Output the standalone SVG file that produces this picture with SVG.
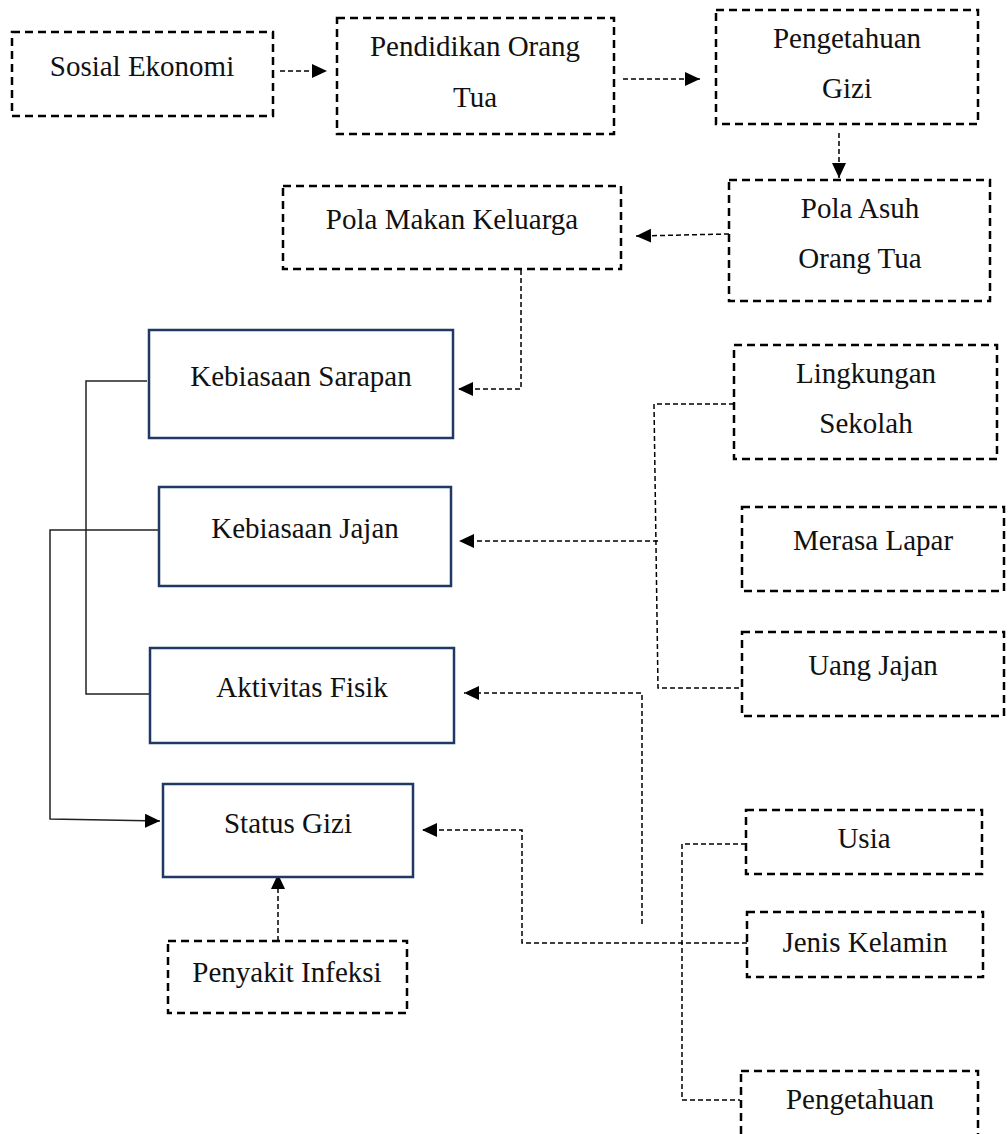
<svg xmlns="http://www.w3.org/2000/svg" width="1008" height="1134" viewBox="0 0 1008 1134">
<style>
.dbox{fill:#fff;stroke:#000;stroke-width:2.5;stroke-dasharray:8 5}
.sbox{fill:#fff;stroke:#1f3864;stroke-width:2.5}
.t{font-family:"Liberation Serif","Times New Roman",serif;font-size:29px;fill:#111;text-anchor:middle}
.dc{fill:none;stroke:#000;stroke-width:1.5;stroke-dasharray:5 3}
.sc{fill:none;stroke:#222;stroke-width:1.5}
</style>
<defs>
<marker id="ah" markerUnits="userSpaceOnUse" markerWidth="16" markerHeight="16" refX="15" refY="7" orient="auto">
<path d="M0,0 L15,7 L0,14 z" fill="#000"/>
</marker>
</defs>
<rect width="1008" height="1134" fill="#fff"/>
<g id="connectors">
<path class="dc" d="M280,71 H327" marker-end="url(#ah)"/>
<path class="dc" d="M623,79 H700" marker-end="url(#ah)"/>
<path class="dc" d="M839,133 V178" marker-end="url(#ah)"/>
<path class="dc" d="M729,234 L636,236" marker-end="url(#ah)"/>
<path class="dc" d="M521,270 V389 H458" marker-end="url(#ah)"/>
<path class="dc" d="M734,404 H654 L658,688 H743"/>
<path class="dc" d="M658,541 H459" marker-end="url(#ah)"/>
<path class="dc" d="M642,924 V693 H464" marker-end="url(#ah)"/>
<path class="dc" d="M747,943 H522 V830 H422" marker-end="url(#ah)"/>
<path class="dc" d="M746,844 H682 V1100 H740"/>
<path class="dc" d="M278,941 V874" marker-end="url(#ah)"/>
<path class="sc" d="M147,381 H86 V694 H157"/>
<path class="sc" d="M158,530 H50 V819 L160,821" marker-end="url(#ah)"/>
</g>
<g id="sosial-ekonomi"><rect class="dbox" x="12" y="32" width="261" height="84"/><text class="t" x="142" y="76">Sosial Ekonomi</text></g>
<g id="pendidikan-orang-tua"><rect class="dbox" x="337" y="18" width="277" height="116"/><text class="t" x="475" y="56">Pendidikan Orang</text><text class="t" x="475" y="107">Tua</text></g>
<g id="pengetahuan-gizi"><rect class="dbox" x="716" y="10" width="262" height="114"/><text class="t" x="847" y="48">Pengetahuan</text><text class="t" x="847" y="98">Gizi</text></g>
<g id="pola-asuh"><rect class="dbox" x="729" y="180" width="261" height="121"/><text class="t" x="860" y="218">Pola Asuh</text><text class="t" x="860" y="268">Orang Tua</text></g>
<g id="pola-makan"><rect class="dbox" x="283" y="186" width="338" height="83"/><text class="t" x="452" y="229">Pola Makan Keluarga</text></g>
<g id="kebiasaan-sarapan"><rect class="sbox" x="149" y="330" width="304" height="108"/><text class="t" x="301" y="386">Kebiasaan Sarapan</text></g>
<g id="kebiasaan-jajan"><rect class="sbox" x="159" y="487" width="292" height="99"/><text class="t" x="305" y="538">Kebiasaan Jajan</text></g>
<g id="aktivitas-fisik"><rect class="sbox" x="150" y="648" width="304" height="95"/><text class="t" x="302" y="697">Aktivitas Fisik</text></g>
<g id="status-gizi"><rect class="sbox" x="163" y="784" width="250" height="93"/><text class="t" x="288" y="833">Status Gizi</text></g>
<g id="penyakit-infeksi"><rect class="dbox" x="168" y="941" width="239" height="72"/><text class="t" x="287" y="982">Penyakit Infeksi</text></g>
<g id="lingkungan-sekolah"><rect class="dbox" x="734" y="345" width="263" height="114"/><text class="t" x="866" y="383">Lingkungan</text><text class="t" x="866" y="433">Sekolah</text></g>
<g id="merasa-lapar"><rect class="dbox" x="742" y="507" width="262" height="84"/><text class="t" x="873" y="550">Merasa Lapar</text></g>
<g id="uang-jajan"><rect class="dbox" x="742" y="632" width="262" height="84"/><text class="t" x="873" y="675">Uang Jajan</text></g>
<g id="usia"><rect class="dbox" x="746" y="810" width="236" height="64"/><text class="t" x="864" y="848">Usia</text></g>
<g id="jenis-kelamin"><rect class="dbox" x="747" y="912" width="236" height="65"/><text class="t" x="865" y="952">Jenis Kelamin</text></g>
<g id="pengetahuan"><rect class="dbox" x="741" y="1071" width="237" height="100"/><text class="t" x="860" y="1109">Pengetahuan</text></g>
</svg>
